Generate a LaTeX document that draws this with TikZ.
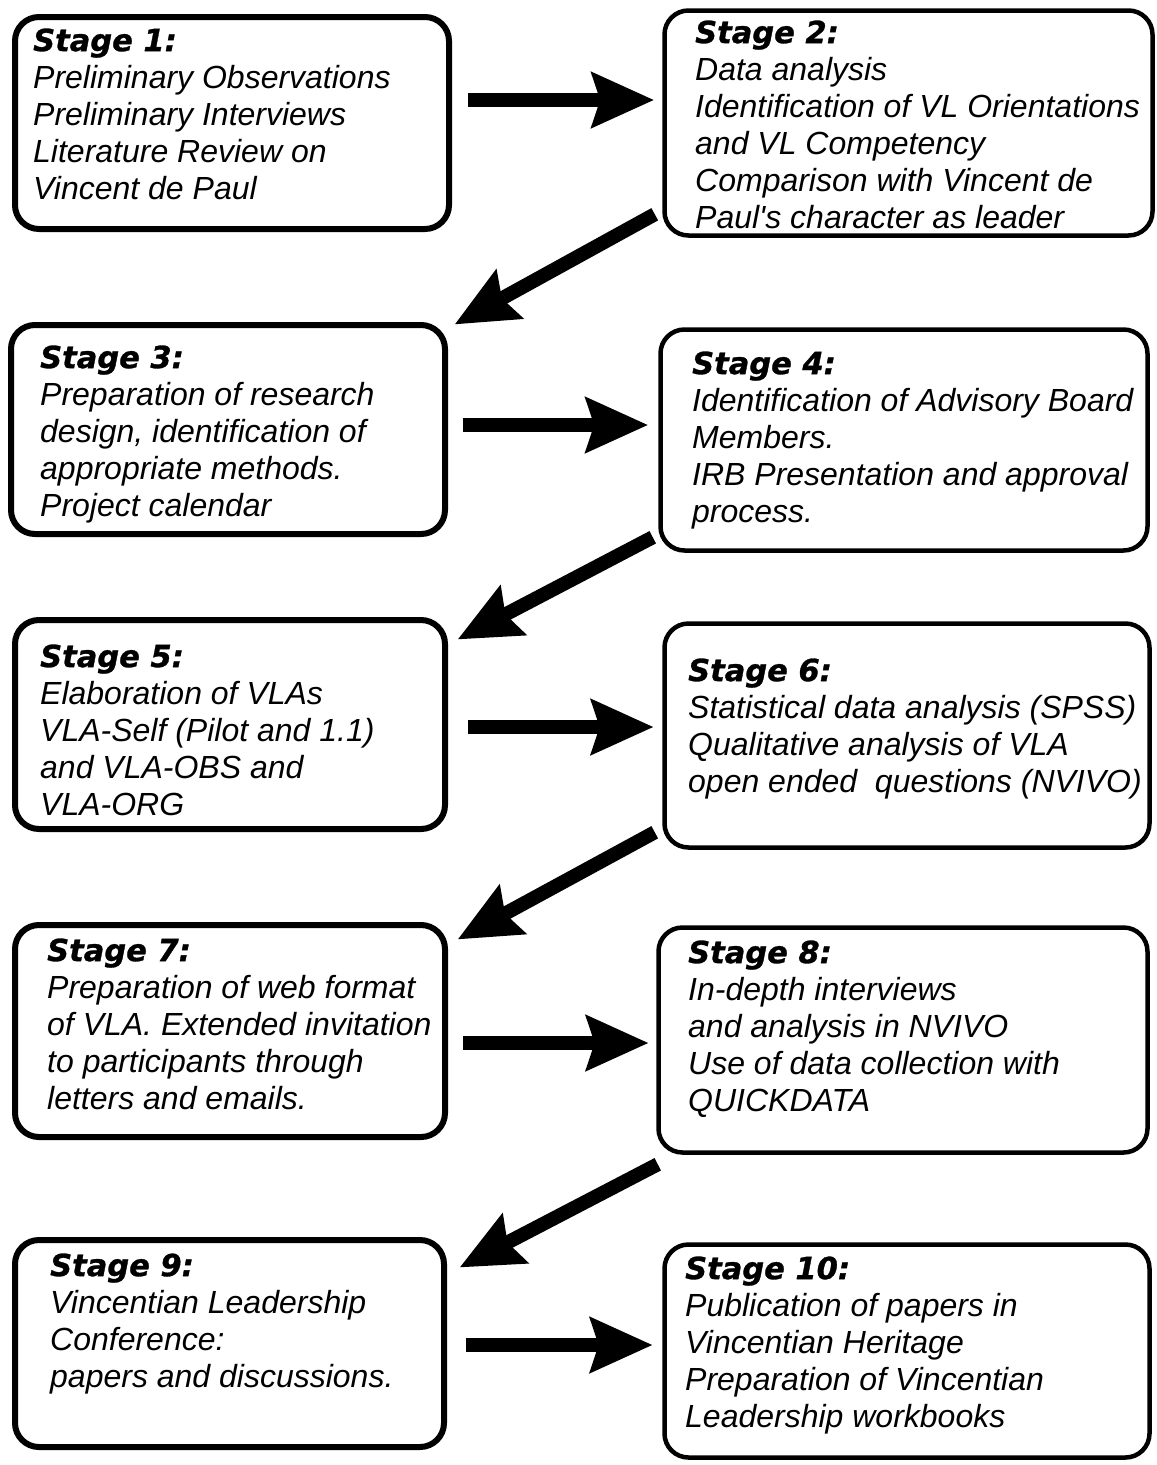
\documentclass[tikz,border=0pt]{standalone}
\usepackage{fontspec}
\setmainfont{Liberation Sans}[Ligatures=TeXOff]
\newfontface\stagefont{DejaVu Sans Bold Oblique}[FakeBold=1, Ligatures=TeXOff]
\newcommand{\stg}[1]{{\fontsize{30.5}{37}\selectfont\stagefont\strut #1}}
\usetikzlibrary{arrows.meta,calc}
\begin{document}
\begin{tikzpicture}[x=1pt,y=-1pt,
  stagebox/.style={draw=black, rounded corners=24pt, inner sep=0pt, fill=white},
  leftbox/.style={stagebox, line width=6pt},
  rightbox/.style={stagebox, line width=4.5pt},
  txt/.style={anchor=north west, inner sep=0pt, align=left,
    font=\fontsize{32}{37}\selectfont\itshape},
  bigarrow/.style={line width=14pt, -{Stealth[length=62pt, width=54pt, inset=8pt]}}]
\useasboundingbox[fill=white] (0,0) rectangle (1157,1465);
% boxes
\node[leftbox,  minimum width=434pt, minimum height=212pt] (s1)  at (232,123) {};
\node[rightbox, minimum width=488pt, minimum height=225pt] (s2)  at (908.5,123) {};
\node[leftbox,  minimum width=434pt, minimum height=209pt] (s3)  at (228,429.5) {};
\node[rightbox, minimum width=487pt, minimum height=221pt] (s4)  at (904,440) {};
\node[leftbox,  minimum width=430pt, minimum height=209pt] (s5)  at (230,724.5) {};
\node[rightbox, minimum width=485pt, minimum height=224pt] (s6)  at (907,735.5) {};
\node[leftbox,  minimum width=430pt, minimum height=212pt] (s7)  at (230,1031) {};
\node[rightbox, minimum width=489pt, minimum height=225pt] (s8)  at (903,1040) {};
\node[leftbox,  minimum width=429pt, minimum height=207pt] (s9)  at (229.5,1343.5) {};
\node[rightbox, minimum width=485pt, minimum height=213pt] (s10) at (907,1351) {};
% texts
\node[txt] (t1) at (33,25) {\stg{Stage 1:}\\Preliminary Observations\\Preliminary Interviews\\Literature Review on\\Vincent de Paul};
\node[txt] (t2) at (695,17) {\stg{Stage 2:}\\Data analysis\\Identification of VL Orientations\\and VL Competency\\Comparison with Vincent de\\Paul's character as leader};
\node[txt] (t3) at (40,342) {\stg{Stage 3:}\\Preparation of research\\design, identification of\\appropriate methods.\\Project calendar};
\node[txt] (t4) at (692,348) {\stg{Stage 4:}\\Identification of Advisory Board\\Members.\\IRB Presentation and approval\\process.};
\node[txt] (t5) at (40,641) {\stg{Stage 5:}\\Elaboration of VLAs\\VLA-Self (Pilot and 1.1)\\and VLA-OBS and\\VLA-ORG};
\node[txt] (t6) at (688,655) {\stg{Stage 6:}\\Statistical data analysis (SPSS)\\Qualitative analysis of VLA\\open ended\ \ questions (NVIVO)};
\node[txt] (t7) at (47,935) {\stg{Stage 7:}\\Preparation of web format\\of VLA. Extended invitation\\to participants through\\letters and emails.};
\node[txt] (t8) at (688,937) {\stg{Stage 8:}\\In-depth interviews\\and analysis in NVIVO\\Use of data collection with\\QUICKDATA};
\node[txt] (t9) at (50,1250) {\stg{Stage 9:}\\Vincentian Leadership\\Conference:\\papers and discussions.};
\node[txt] (t10) at (685,1253) {\stg{Stage 10:}\\Publication of papers in\\Vincentian Heritage\\Preparation of Vincentian\\Leadership workbooks};
% arrows
\draw[bigarrow] ($(s1.east)+(16,-23)$) -- ($(s2.west)+(-8,-23)$);
\draw[bigarrow] ($(s2.south west)+(-7.5,-23.5)$) -- ($(s3.north east)+(6.5,2.5)$);
\draw[bigarrow] ($(s3.east)+(14.5,-4.5)$) -- ($(s4.west)+(-10,-15)$);
\draw[bigarrow] ($(s4.south west)+(-5.5,-15.5)$) -- ($(s5.north east)+(9.5,22.5)$);
\draw[bigarrow] ($(s5.east)+(20,2.5)$) -- ($(s6.west)+(-8.5,-8.5)$);
\draw[bigarrow] ($(s6.south west)+(-7.5,-17.5)$) -- ($(s7.north east)+(9.5,17.5)$);
\draw[bigarrow] ($(s7.east)+(15,12)$) -- ($(s8.west)+(-7.5,3)$);
\draw[bigarrow] ($(s8.south west)+(1.5,9.5)$) -- ($(s9.north east)+(12.5,30.5)$);
\draw[bigarrow] ($(s9.east)+(18.5,1.5)$) -- ($(s10.west)+(-9.5,-6)$);
\end{tikzpicture}
\end{document}
